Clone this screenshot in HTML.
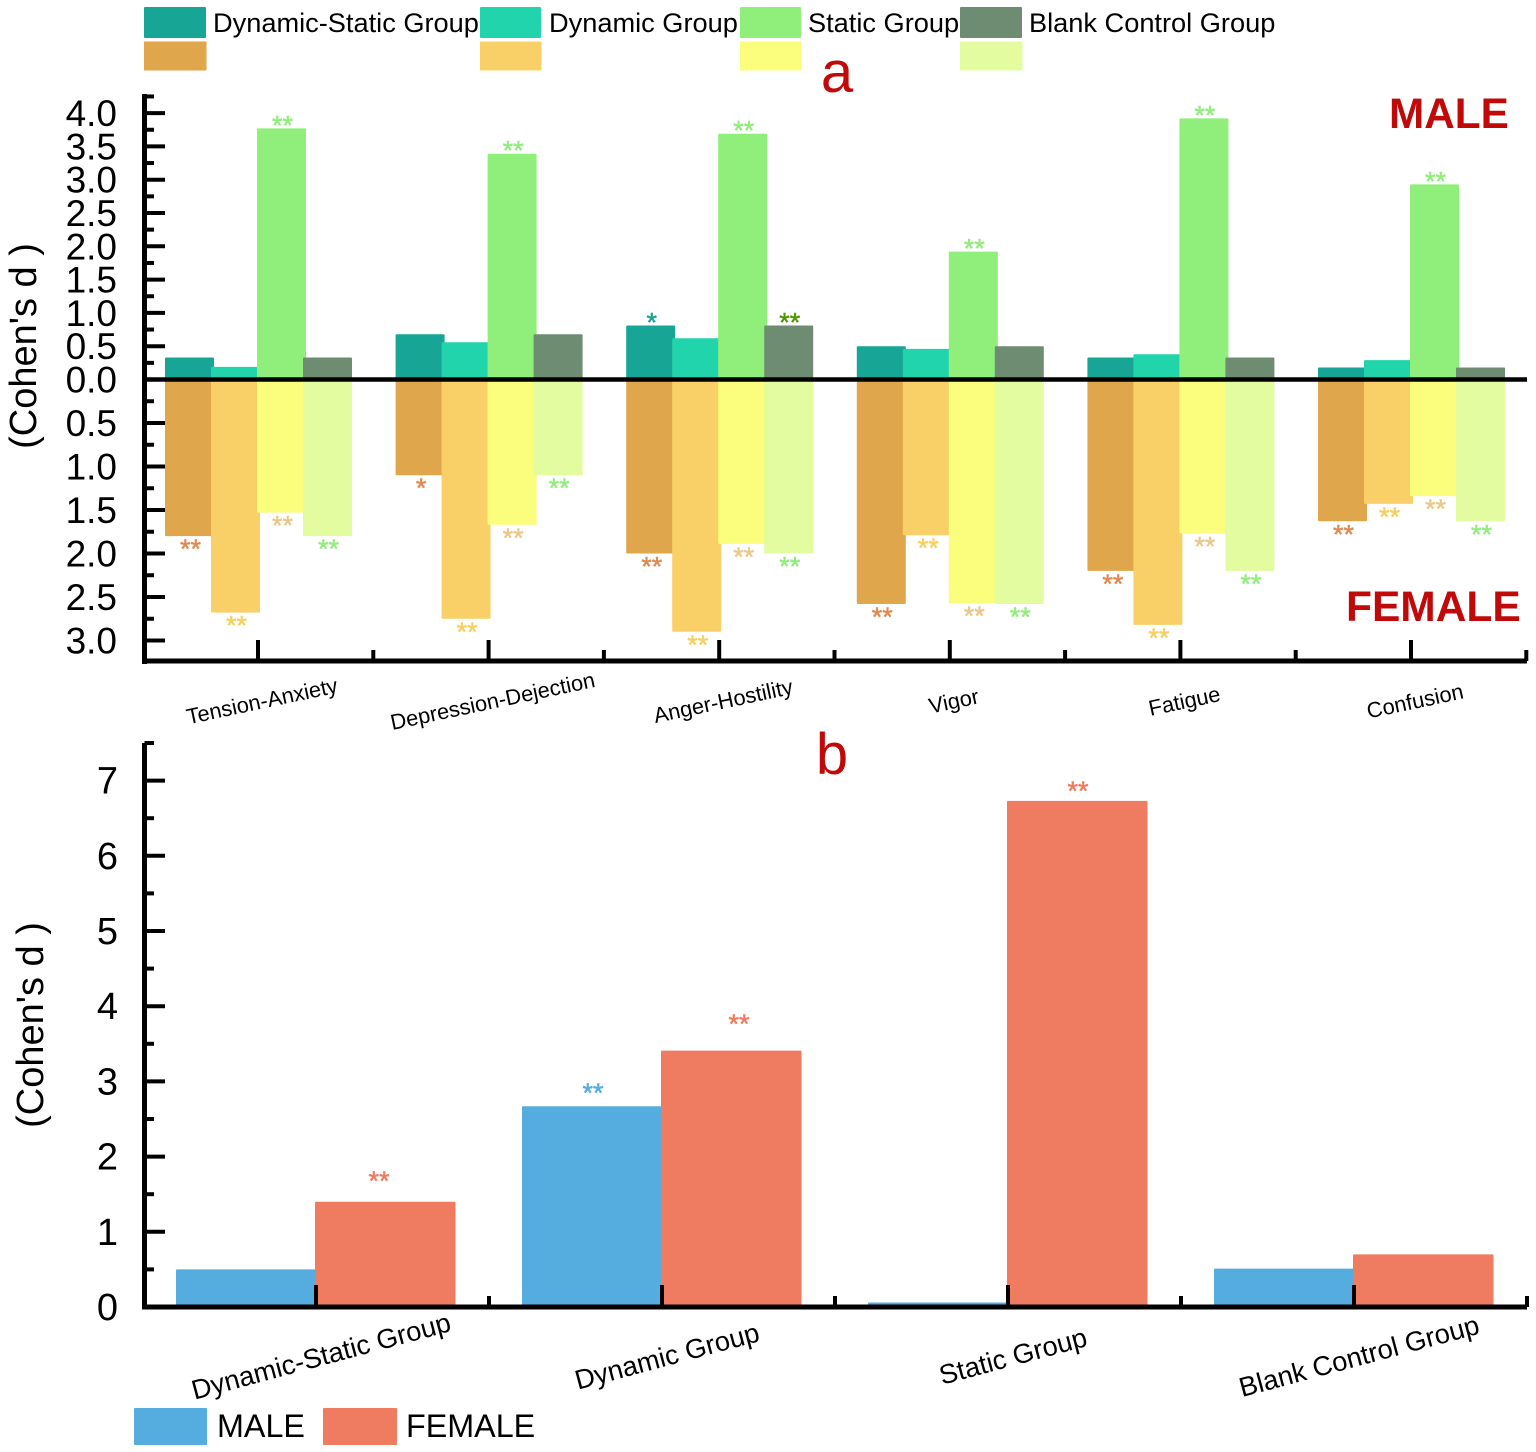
<!DOCTYPE html>
<html lang="en">
<head>
<meta charset="utf-8">
<title>Cohen's d by group and sex</title>
<style>
html,body{margin:0;padding:0;background:#fff;}
svg{display:block;font-family:"Liberation Sans",sans-serif;}
</style>
</head>
<body>
<svg id="chart" xmlns="http://www.w3.org/2000/svg" width="1536" height="1452" viewBox="0 0 1536 1452"></svg>
<script>
// ---------- Panel a data ----------
const aCategories = ['Tension-Anxiety','Depression-Dejection','Anger-Hostility','Vigor','Fatigue','Confusion'];
const aGroups = ['Dynamic-Static Group','Dynamic Group','Static Group','Blank Control Group'];
const aMaleDynamicStatic = [0.33,0.68,0.81,0.50,0.33,0.18];
const aMaleDynamic = [0.19,0.56,0.62,0.46,0.38,0.29];
const aMaleStatic = [3.77,3.39,3.69,1.92,3.92,2.93];
const aMaleBlank = [0.33,0.68,0.81,0.50,0.33,0.18];
const aFemaleDynamicStatic = [1.80,1.10,2.00,2.58,2.20,1.63];
const aFemaleDynamic = [2.68,2.75,2.90,1.79,2.82,1.43];
const aFemaleStatic = [1.53,1.67,1.89,2.57,1.77,1.34];
const aFemaleBlank = [1.80,1.10,2.00,2.58,2.20,1.63];
const aMaleSigDynamicStatic = ['','','*','','',''];
const aMaleSigDynamic = ['','','','','',''];
const aMaleSigStatic = ['**','**','**','**','**','**'];
const aMaleSigBlank = ['','','**','','',''];
const aFemaleSigDynamicStatic = ['**','*','**','**','**','**'];
const aFemaleSigDynamic = ['**','**','**','**','**','**'];
const aFemaleSigStatic = ['**','**','**','**','**','**'];
const aFemaleSigBlank = ['**','**','**','**','**','**'];
const aMaleTickLabels = ['0.0','0.5','1.0','1.5','2.0','2.5','3.0','3.5','4.0'];
const aFemaleTickLabels = ['0.5','1.0','1.5','2.0','2.5','3.0'];

// ---------- Panel b data ----------
const bCategories = ['Dynamic-Static Group','Dynamic Group','Static Group','Blank Control Group'];
const bMale = [0.50,2.67,0.06,0.51];
const bFemale = [1.40,3.41,6.73,0.70];
const bMaleSig = ['','**','',''];
const bFemaleSig = ['**','**','**',''];
const bMaleSigLift = [0,0.24,0,0];
const bFemaleSigLift = [0.34,0.42,0.20,0];

const bTickLabels = ['0','1','2','3','4','5','6','7'];

// ---------- Styling ----------
const maleColors = ['#17A596','#22D4AB','#90EE7A','#6E8C72'];
const femaleColors = ['#DFA64C','#F9D067','#FBFD7C','#E3FCA0'];
const maleStarColors = ['#17A596','#22D4AB','#90EE7A','#4F9A00'];
const femaleStarColors = ['#E08A50','#F5D060','#EAC88A','#90EE7A'];
const bColors = ['#55ADDF','#EF7B60'];
const RED = '#C00A0A';
const bFemaleStarNudge = [-7,7,0,0];

const svg = document.getElementById('chart');
const NS = 'http://www.w3.org/2000/svg';
function make(tag, attrs, parent){
  const el = document.createElementNS(NS, tag);
  for (const k in attrs) el.setAttribute(k, attrs[k]);
  (parent || svg).appendChild(el);
  return el;
}
function slug(s){ return s.toLowerCase().replace(/[^a-z0-9]+/g,'-'); }

// ---------- Axis functions ----------
const aLeft = 144.5, aRight = 1527, aAxisBottom = 661, aAxisTop = 96;
const aZero = 379.5;
function aYMale(v){ return aZero - 66.6 * v; }
function aYFemale(v){ return aZero + 87 * v; }
function aXCat(i){ return 258 + 230.6 * i; }
function aXBar(i, g){ return aXCat(i) - 93 + 46 * g; }
const aBarW = 49;

const bZero = 1307;
function bY(v){ return bZero - 75.2 * v; }
function bXCat(i){ return 316 + 346 * i; }
const bBarW = 140.5;

function hLine(x1,x2,y,w,name){
  const l = make('line',{x1:x1,x2:x2,y1:y,y2:y,stroke:'#000','stroke-width':w});
  
  
  return l;
}
function vLine(x,y1,y2,w,name){
  const l = make('line',{x1:x,x2:x,y1:y1,y2:y2,stroke:'#000','stroke-width':w});
  
  
  return l;
}
function label(txt,x,y,size,name,opts){
  const t = make('text',Object.assign({x:x,y:y,'font-size':size,fill:'#000'},opts||{}));
  t.textContent = txt;
  
  
  return t;
}
function rotated(txt,cx,cy,size,angle,name){
  return label(txt,cx,cy,size,name,{'text-anchor':'middle','dominant-baseline':'central',transform:'rotate('+angle+' '+cx+' '+cy+')'});
}
function bar(x,y,w,h,fill,name){
  const r = make('rect',{x:x,y:y,width:w,height:Math.max(h,0),fill:fill,rx:1});
  
  
  return r;
}
function stars(txt,cx,baseline,fill,name){
  if(!txt) return;
  const t = make('text',{x:cx,y:baseline,'font-size':27,fill:fill,stroke:fill,'stroke-width':0.5,'text-anchor':'middle'});
  t.textContent = txt;
  
  
}

// ---------- Legend panel a ----------
const legendSwatchX = [144,480,740,960];
const legendSwatchW = [62,61,61,62];
const legendTextX = [213,549,808,1029];
aGroups.forEach(function(g,i){
  const top = make('rect',{x:legendSwatchX[i],y:7,width:legendSwatchW[i],height:31,fill:maleColors[i],rx:1});
  
  
  const bot = make('rect',{x:legendSwatchX[i],y:41.5,width:legendSwatchW[i]+0.5,height:29,fill:femaleColors[i]});
  
  
  label(g,legendTextX[i],32,27.2,'legend-label-'+slug(g));
});

// ---------- Panel letters ----------
label('a',837,92,58,'panel-a-letter',{'text-anchor':'middle',fill:RED});
label('b',832,774,58,'panel-b-letter',{'text-anchor':'middle',fill:RED});
label('MALE',1389,128,42.3,'male-annotation',{'font-weight':'bold',fill:RED});
label('FEMALE',1346,621,42.5,'female-annotation',{'font-weight':'bold',fill:RED});

// ---------- Panel a bars ----------
const aMaleSeries = [aMaleDynamicStatic,aMaleDynamic,aMaleStatic,aMaleBlank];
const aFemaleSeries = [aFemaleDynamicStatic,aFemaleDynamic,aFemaleStatic,aFemaleBlank];
const aMaleSig = [aMaleSigDynamicStatic,aMaleSigDynamic,aMaleSigStatic,aMaleSigBlank];
const aFemaleSig = [aFemaleSigDynamicStatic,aFemaleSigDynamic,aFemaleSigStatic,aFemaleSigBlank];
aCategories.forEach(function(c,i){
  aGroups.forEach(function(g,k){
    const v = aMaleSeries[k][i];
    bar(aXBar(i,k),aYMale(v),aBarW,aZero-aYMale(v),maleColors[k],'bar-male-'+slug(c)+'-'+slug(g));
    const f = aFemaleSeries[k][i];
    bar(aXBar(i,k),aZero,aBarW,aYFemale(f)-aZero,femaleColors[k],'bar-female-'+slug(c)+'-'+slug(g));
  });
});
aCategories.forEach(function(c,i){
  aGroups.forEach(function(g,k){
    const cx = aXBar(i,k)+aBarW/2+1;
    stars(aMaleSig[k][i],cx,aYMale(aMaleSeries[k][i])+6,maleStarColors[k],'significance-male-'+slug(c)+'-'+slug(g));
    stars(aFemaleSig[k][i],cx,aYFemale(aFemaleSeries[k][i])+22,femaleStarColors[k],'significance-female-'+slug(c)+'-'+slug(g));
  });
});

// ---------- Panel a axes ----------
vLine(aLeft,aAxisTop-2,aAxisBottom+3,5,'panel-a-y-axis');
hLine(aLeft-2.5,aRight,aAxisBottom,5,'panel-a-x-axis');
hLine(aLeft,aRight,aZero,4.5,'panel-a-zero-line');
aMaleTickLabels.forEach(function(t,i){
  const v = parseFloat(t), y = aYMale(v);
  if(v>0) hLine(aLeft,165,y,4,'panel-a-y-tick-male-'+t);
  label(t,117,y+13,37,'panel-a-y-tick-label-male-'+t,{'text-anchor':'end'});
  if(i<aMaleTickLabels.length) hLine(aLeft,154,aYMale(v+0.25),4,'panel-a-y-minor-tick-male-'+t);
});
aFemaleTickLabels.forEach(function(t){
  const v = parseFloat(t), y = aYFemale(v);
  hLine(aLeft,165,y,4,'panel-a-y-tick-female-'+t);
  label(t,117,y+13,37,'panel-a-y-tick-label-female-'+t,{'text-anchor':'end'});
  hLine(aLeft,154,aYFemale(v-0.25),4,'panel-a-y-minor-tick-female-'+t);
});
aCategories.forEach(function(c,i){
  vLine(aXCat(i),640,aAxisBottom,4,'panel-a-x-tick-'+slug(c));
  vLine(aXCat(i)+115.3,650,aAxisBottom,4,'panel-a-x-minor-tick-'+slug(c));
  rotated(c,aXCat(i)+4,701,21.8,-12,'panel-a-x-label-'+slug(c));
});
rotated("(Cohen's d )",24,346,38,-90,'panel-a-y-axis-title');

// ---------- Panel b bars ----------
bCategories.forEach(function(c,i){
  bar(bXCat(i)-140,bY(bMale[i]),bBarW,bZero-bY(bMale[i]),bColors[0],'bar-male-'+slug(c));
  bar(bXCat(i)-1,bY(bFemale[i]),bBarW,bZero-bY(bFemale[i]),bColors[1],'bar-female-'+slug(c));
  stars(bMaleSig[i],bXCat(i)-69,bY(bMale[i]+bMaleSigLift[i])+14,bColors[0],'significance-male-'+slug(c));
  stars(bFemaleSig[i],bXCat(i)+70+bFemaleStarNudge[i],bY(bFemale[i]+bFemaleSigLift[i])+14,bColors[1],'significance-female-'+slug(c));
});

// ---------- Panel b axes ----------
vLine(aLeft,743,bZero+2.5,5,'panel-b-y-axis');
hLine(aLeft-2.5,aRight,bZero,5,'panel-b-x-axis');
bTickLabels.forEach(function(t){
  const v = parseFloat(t), y = bY(v);
  if(v>0) hLine(aLeft,165,y,4,'panel-b-y-tick-'+t);
  hLine(aLeft,154,bY(v+0.5),4,'panel-b-y-minor-tick-'+t);
  label(t,118,y+13,38,'panel-b-y-tick-label-'+t,{'text-anchor':'end'});
});
bCategories.forEach(function(c,i){
  vLine(bXCat(i),1285,bZero,4,'panel-b-x-tick-'+slug(c));
  vLine(bXCat(i)+173,1296,bZero,4,'panel-b-x-minor-tick-'+slug(c));
  rotated(c,bXCat(i)+5,1356,27.3,-15,'panel-b-x-label-'+slug(c));
});
rotated("(Cohen's d )",31,1025,38,-90,'panel-b-y-axis-title');

// ---------- Legend panel b ----------
const bm = make('rect',{x:134,y:1408,width:73,height:37,fill:bColors[0],rx:1});


const bf = make('rect',{x:323,y:1408,width:74,height:37,fill:bColors[1],rx:1});


label('MALE',217,1437,32.3,'legend-label-male');
label('FEMALE',406,1437,32.3,'legend-label-female');
</script>
</body>
</html>
